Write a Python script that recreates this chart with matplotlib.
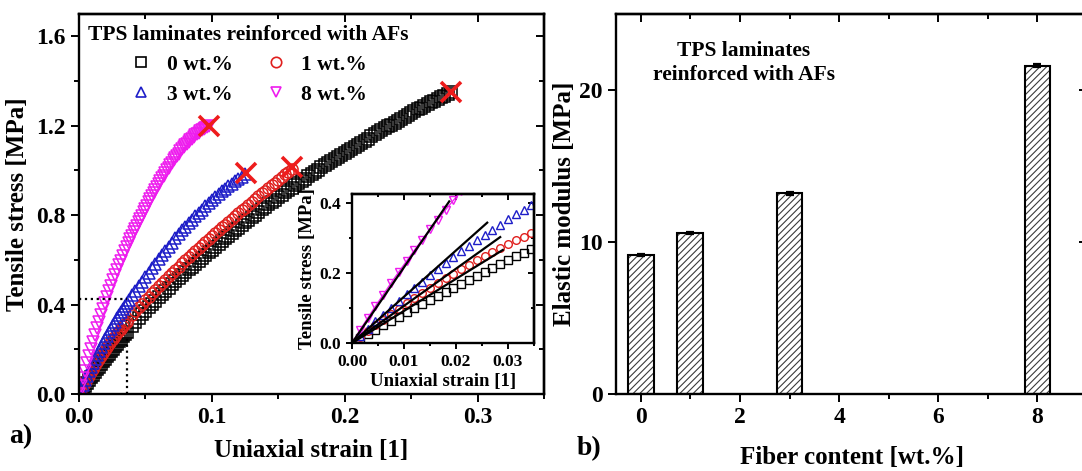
import numpy as np
import matplotlib
matplotlib.use("Agg")
import matplotlib.pyplot as plt
from matplotlib.ticker import MultipleLocator, NullLocator
from matplotlib.lines import Line2D

plt.rcParams['font.family'] = ['Liberation Serif', 'DejaVu Serif']
plt.rcParams['font.weight'] = 'bold'
plt.rcParams['axes.labelweight'] = 'bold'
plt.rcParams['hatch.linewidth'] = 0.8

# ---- tensile curves (strain [1], stress [MPa]) ----
labels = ['0 wt.%', '1 wt.%', '3 wt.%', '8 wt.%']

strain_lo = [0.0, 0.0015, 0.003, 0.0045, 0.006, 0.0075, 0.009, 0.0105, 0.012, 0.0135,
             0.015, 0.0165, 0.018, 0.0195, 0.021, 0.0225, 0.024, 0.0255, 0.027, 0.0285,
             0.030, 0.0315, 0.033, 0.0345, 0.036]
stress_lo_0 = [0.0, 0.013, 0.025, 0.038, 0.050, 0.063, 0.075, 0.087, 0.099, 0.111,
               0.123, 0.135, 0.146, 0.158, 0.169, 0.181, 0.192, 0.203, 0.214, 0.225,
               0.236, 0.247, 0.258, 0.268, 0.279]
stress_lo_1 = [0.0, 0.017, 0.034, 0.050, 0.067, 0.082, 0.098, 0.113, 0.128, 0.143,
               0.157, 0.171, 0.184, 0.198, 0.211, 0.223, 0.236, 0.248, 0.260, 0.271,
               0.282, 0.293, 0.303, 0.313, 0.323]
stress_lo_3 = [0.0, 0.021, 0.041, 0.062, 0.081, 0.101, 0.120, 0.139, 0.157, 0.175,
               0.193, 0.211, 0.228, 0.245, 0.261, 0.277, 0.293, 0.308, 0.323, 0.338,
               0.353, 0.367, 0.380, 0.394, 0.407]
stress_lo_8 = [0.0, 0.036, 0.071, 0.105, 0.138, 0.171, 0.203, 0.234, 0.265, 0.295,
               0.324, 0.352, 0.380, 0.407, 0.433, 0.459, 0.484, 0.508, 0.531, 0.554,
               0.576, 0.597, 0.618, 0.638, 0.657]

strain_hi_0 = [0.0400, 0.0425, 0.0450, 0.0475, 0.0500, 0.0525, 0.0550, 0.0575, 0.0600, 0.0625,
               0.0650, 0.0675, 0.0700, 0.0725, 0.0750, 0.0775, 0.0800, 0.0825, 0.0850, 0.0875,
               0.0900, 0.0925, 0.0950, 0.0975, 0.1000, 0.1025, 0.1050, 0.1075, 0.1100, 0.1125,
               0.1150, 0.1175, 0.1200, 0.1225, 0.1250, 0.1275, 0.1300, 0.1325, 0.1350, 0.1375,
               0.1400, 0.1425, 0.1450, 0.1475, 0.1500, 0.1525, 0.1550, 0.1575, 0.1600, 0.1625,
               0.1650, 0.1675, 0.1700, 0.1725, 0.1750, 0.1775, 0.1800, 0.1825, 0.1850, 0.1875,
               0.1900, 0.1925, 0.1950, 0.1975, 0.2000, 0.2025, 0.2050, 0.2075, 0.2100, 0.2125,
               0.2150, 0.2175, 0.2200, 0.2225, 0.2250, 0.2275, 0.2300, 0.2325, 0.2350, 0.2375,
               0.2400, 0.2425, 0.2450, 0.2475, 0.2500, 0.2525, 0.2550, 0.2575, 0.2600, 0.2625,
               0.2650, 0.2675, 0.2700, 0.2725, 0.2750, 0.2775, 0.2800]
stress_hi_0 = [0.305, 0.322, 0.339, 0.356, 0.372, 0.388, 0.403, 0.418, 0.433, 0.448,
               0.462, 0.476, 0.490, 0.504, 0.517, 0.531, 0.544, 0.557, 0.570, 0.583,
               0.596, 0.609, 0.621, 0.634, 0.646, 0.659, 0.671, 0.684, 0.696, 0.708,
               0.720, 0.732, 0.744, 0.756, 0.768, 0.780, 0.791, 0.803, 0.814, 0.826,
               0.837, 0.848, 0.859, 0.870, 0.881, 0.892, 0.902, 0.913, 0.923, 0.934,
               0.944, 0.954, 0.964, 0.974, 0.984, 0.994, 1.004, 1.014, 1.023, 1.033,
               1.042, 1.052, 1.061, 1.071, 1.080, 1.089, 1.098, 1.107, 1.116, 1.125,
               1.134, 1.143, 1.152, 1.161, 1.170, 1.179, 1.188, 1.197, 1.205, 1.214,
               1.222, 1.231, 1.239, 1.248, 1.256, 1.265, 1.273, 1.281, 1.289, 1.297,
               1.305, 1.313, 1.320, 1.328, 1.335, 1.343, 1.350]

strain_hi_1 = [0.0400, 0.0425, 0.0450, 0.0475, 0.0500, 0.0525, 0.0550, 0.0575, 0.0600, 0.0625,
               0.0650, 0.0675, 0.0700, 0.0725, 0.0750, 0.0775, 0.0800, 0.0825, 0.0850, 0.0875,
               0.0900, 0.0925, 0.0950, 0.0975, 0.1000, 0.1025, 0.1050, 0.1075, 0.1100, 0.1125,
               0.1150, 0.1175, 0.1200, 0.1225, 0.1250, 0.1275, 0.1300, 0.1325, 0.1350, 0.1375,
               0.1400, 0.1425, 0.1450, 0.1475, 0.1500, 0.1525, 0.1550, 0.1575, 0.1600]
stress_hi_1 = [0.352, 0.370, 0.387, 0.404, 0.420, 0.436, 0.451, 0.467, 0.482, 0.497,
               0.512, 0.527, 0.541, 0.556, 0.570, 0.584, 0.598, 0.612, 0.626, 0.640,
               0.653, 0.667, 0.680, 0.693, 0.706, 0.719, 0.732, 0.745, 0.758, 0.771,
               0.784, 0.797, 0.809, 0.822, 0.834, 0.847, 0.859, 0.872, 0.884, 0.897,
               0.909, 0.922, 0.934, 0.946, 0.958, 0.970, 0.982, 0.994, 1.006]

strain_hi_3 = [0.0375, 0.0400, 0.0425, 0.0450, 0.0475, 0.0500, 0.0525, 0.0550, 0.0575, 0.0600,
               0.0625, 0.0650, 0.0675, 0.0700, 0.0725, 0.0750, 0.0775, 0.0800, 0.0825, 0.0850,
               0.0875, 0.0900, 0.0925, 0.0950, 0.0975, 0.1000, 0.1025, 0.1050, 0.1075, 0.1100,
               0.1125, 0.1150, 0.1175, 0.1200, 0.1225, 0.1250]
stress_hi_3 = [0.420, 0.441, 0.462, 0.482, 0.502, 0.522, 0.542, 0.562, 0.582, 0.602,
               0.622, 0.641, 0.659, 0.677, 0.696, 0.715, 0.732, 0.748, 0.764, 0.780,
               0.796, 0.811, 0.825, 0.840, 0.854, 0.868, 0.880, 0.893, 0.906, 0.918,
               0.930, 0.941, 0.952, 0.962, 0.973, 0.983]

strain_hi_8 = [0.03750, 0.03875, 0.04000, 0.04125, 0.04250, 0.04375, 0.04500, 0.04625,
               0.04750, 0.04875, 0.05000, 0.05125, 0.05250, 0.05375, 0.05500, 0.05625,
               0.05750, 0.05875, 0.06000, 0.06125, 0.06250, 0.06375, 0.06500, 0.06625,
               0.06750, 0.06875, 0.07000, 0.07125, 0.07250, 0.07375, 0.07500, 0.07625,
               0.07750, 0.07875, 0.08000, 0.08125, 0.08250, 0.08375, 0.08500, 0.08625,
               0.08750, 0.08875, 0.09000, 0.09125, 0.09250, 0.09375, 0.09500, 0.09625,
               0.09750]
stress_hi_8 = [0.676, 0.692, 0.707, 0.723, 0.738, 0.753, 0.768, 0.783,
               0.798, 0.813, 0.827, 0.843, 0.858, 0.873, 0.887, 0.901,
               0.914, 0.927, 0.940, 0.953, 0.965, 0.977, 0.989, 1.001,
               1.012, 1.023, 1.034, 1.045, 1.055, 1.065, 1.075, 1.085,
               1.094, 1.103, 1.112, 1.120, 1.128, 1.136, 1.143, 1.150,
               1.157, 1.163, 1.169, 1.175, 1.180, 1.185, 1.190, 1.194,
               1.198]

# fracture points (red crosses)
frac_strain = [0.280, 0.1605, 0.1255, 0.098]
frac_stress = [1.350, 1.014, 0.990, 1.200]

# inset zoom window marked by dotted lines
zoom_strain = 0.036
zoom_stress = 0.425
zoom_black = 0.262

# ---- elastic modulus ----
fiber = [0, 1, 3, 8]
modulus = [9.15, 10.6, 13.2, 21.6]
modulus_err = [0.08, 0.07, 0.08, 0.10]
fit_end = [0.029, 0.0285, 0.026, 0.0187]   # where the linear fits stop in the inset

colors = ['black', '#e0201e', '#1e1ec8', '#ee1cee']
markers = ['s', 'o', '^', 'v']
strain_hi = [strain_hi_0, strain_hi_1, strain_hi_3, strain_hi_8]
stress_hi = [stress_hi_0, stress_hi_1, stress_hi_3, stress_hi_8]
stress_lo = [stress_lo_0, stress_lo_1, stress_lo_3, stress_lo_8]

fig = plt.figure(figsize=(10.82, 4.71), dpi=100)


def origin_ticks(a, xmaj, xmin, ymaj, ymin, size, L=6, l=3.5):
    # outward ticks with labels on bottom/left, inward plain ticks on top/right
    a.xaxis.set_major_locator(MultipleLocator(xmaj))
    a.xaxis.set_minor_locator(MultipleLocator(xmin) if xmin else NullLocator())
    a.yaxis.set_major_locator(MultipleLocator(ymaj))
    a.yaxis.set_minor_locator(MultipleLocator(ymin) if ymin else NullLocator())
    a.tick_params(which='both', direction='out', width=1.4, labelsize=size,
                  top=False, right=False)
    a.tick_params(which='major', length=L)
    a.tick_params(which='minor', length=l)
    for s in a.spines.values():
        s.set_linewidth(1.7)
    t = a.secondary_xaxis('top')
    t.xaxis.set_major_locator(MultipleLocator(xmaj))
    t.xaxis.set_minor_locator(MultipleLocator(xmin) if xmin else NullLocator())
    t.tick_params(which='both', direction='in', width=1.4, labeltop=False)
    t.tick_params(which='major', length=L)
    t.tick_params(which='minor', length=l)
    t.spines['top'].set_linewidth(1.7)
    r = a.secondary_yaxis('right')
    r.yaxis.set_major_locator(MultipleLocator(ymaj))
    r.yaxis.set_minor_locator(MultipleLocator(ymin) if ymin else NullLocator())
    r.tick_params(which='both', direction='in', width=1.4, labelright=False)
    r.tick_params(which='major', length=L)
    r.tick_params(which='minor', length=l)
    r.spines['right'].set_linewidth(1.7)


# ---------- panel a ----------
ax = fig.add_axes([79 / 1082, 77 / 471, 465 / 1082, 380 / 471])
for i in range(4):
    x = strain_lo + strain_hi[i]
    y = stress_lo[i] + stress_hi[i]
    ax.plot(x, y, linestyle='none', marker=markers[i], ms=8, mfc='none',
            mec=colors[i], mew=1.1)
ax.plot(frac_strain, frac_stress, linestyle='none', marker='x', ms=15, mew=2.6,
        color='#ee1c1c', zorder=5)
ax.plot([0, zoom_strain], [zoom_stress, zoom_stress], 'k:', lw=1.6)
ax.plot([zoom_strain, zoom_strain], [0, zoom_black], 'k:', lw=1.6)
ax.set_xlim(0, 0.35)
ax.set_ylim(0, 1.7)
origin_ticks(ax, 0.1, 0.05, 0.4, 0.2, 17)
ax.set_xlabel('Uniaxial strain [1]', fontsize=18, labelpad=8)
ax.set_ylabel('Tensile stress [MPa]', fontsize=18, labelpad=5)

order = [0, 2, 1, 3]   # row-wise: 0 | 1 on first row, 3 | 8 on second
handles = [Line2D([], [], linestyle='none', marker=markers[i], ms=7.5, mfc='none',
                  mec=colors[i], mew=1.2) for i in order]
leg = ax.legend(handles, [labels[i] for i in order], ncol=2, loc='upper left',
                frameon=False, title='TPS laminates reinforced with AFs', fontsize=15.5,
                title_fontsize=15.5, bbox_to_anchor=(-0.012, 1.01),
                handlelength=1.0, handletextpad=0.7, columnspacing=1.5,
                labelspacing=0.45, borderaxespad=0.3)
leg.get_title().set_fontweight('bold')

# inset
axi = fig.add_axes([352 / 1082, 128 / 471, 182 / 1082, 149 / 471])
for i in range(4):
    x = strain_lo + strain_hi[i]
    y = stress_lo[i] + stress_hi[i]
    ls = '-' if i == 3 else 'none'
    axi.plot(x, y, linestyle=ls, lw=0.9, color=colors[i], marker=markers[i], ms=5.5,
             mfc='none', mec=colors[i], mew=1.0)
for i in range(4):
    axi.plot([0, fit_end[i]], [0, modulus[i] * fit_end[i]], color='black', lw=1.6)
axi.set_xlim(0, 0.035)
axi.set_ylim(0, 0.425)
origin_ticks(axi, 0.01, 0.005, 0.2, 0.1, 12.5, L=4.5, l=2.5)
axi.xaxis.set_major_formatter(lambda v, p: '%.2f' % v)
axi.yaxis.set_major_formatter(lambda v, p: '%.1f' % v)
axi.set_xlabel('Uniaxial strain [1]', fontsize=13.5, labelpad=2)
axi.set_ylabel('Tensile stress [MPa]', fontsize=13.5, labelpad=2)

fig.text(9 / 1082, 1 - 443 / 471, 'a)', fontsize=20, fontweight='bold')

# ---------- panel b ----------
ax2 = fig.add_axes([616 / 1082, 77 / 471, 471 / 1082, 380 / 471])
ax2.bar(fiber, modulus, width=0.52, color='white', edgecolor='#3a3a3a', lw=0,
        hatch='/////', zorder=2)
ax2.bar(fiber, modulus, width=0.52, fill=False, edgecolor='black', lw=1.5, zorder=3)
ax2.errorbar(fiber, modulus, yerr=modulus_err, fmt='none', ecolor='black',
             elinewidth=1.2, capsize=3, capthick=1.6, zorder=4)
ax2.set_xlim(-0.5, 9.0)
ax2.set_ylim(0, 25)
origin_ticks(ax2, 2, 1, 10, None, 17)
ax2.set_xlabel('Fiber content [wt.%]', fontsize=18, labelpad=13)
ax2.set_ylabel('Elastic modulus [MPa]', fontsize=18, labelpad=2)
ax2.text(2.08, 21.8, 'TPS laminates\nreinforced with AFs', ha='center', va='center',
         fontsize=15.5, fontweight='bold', linespacing=1.25)
fig.text(577 / 1082, 1 - 455 / 471, 'b)', fontsize=20, fontweight='bold')

fig.savefig('out.png', dpi=100)
